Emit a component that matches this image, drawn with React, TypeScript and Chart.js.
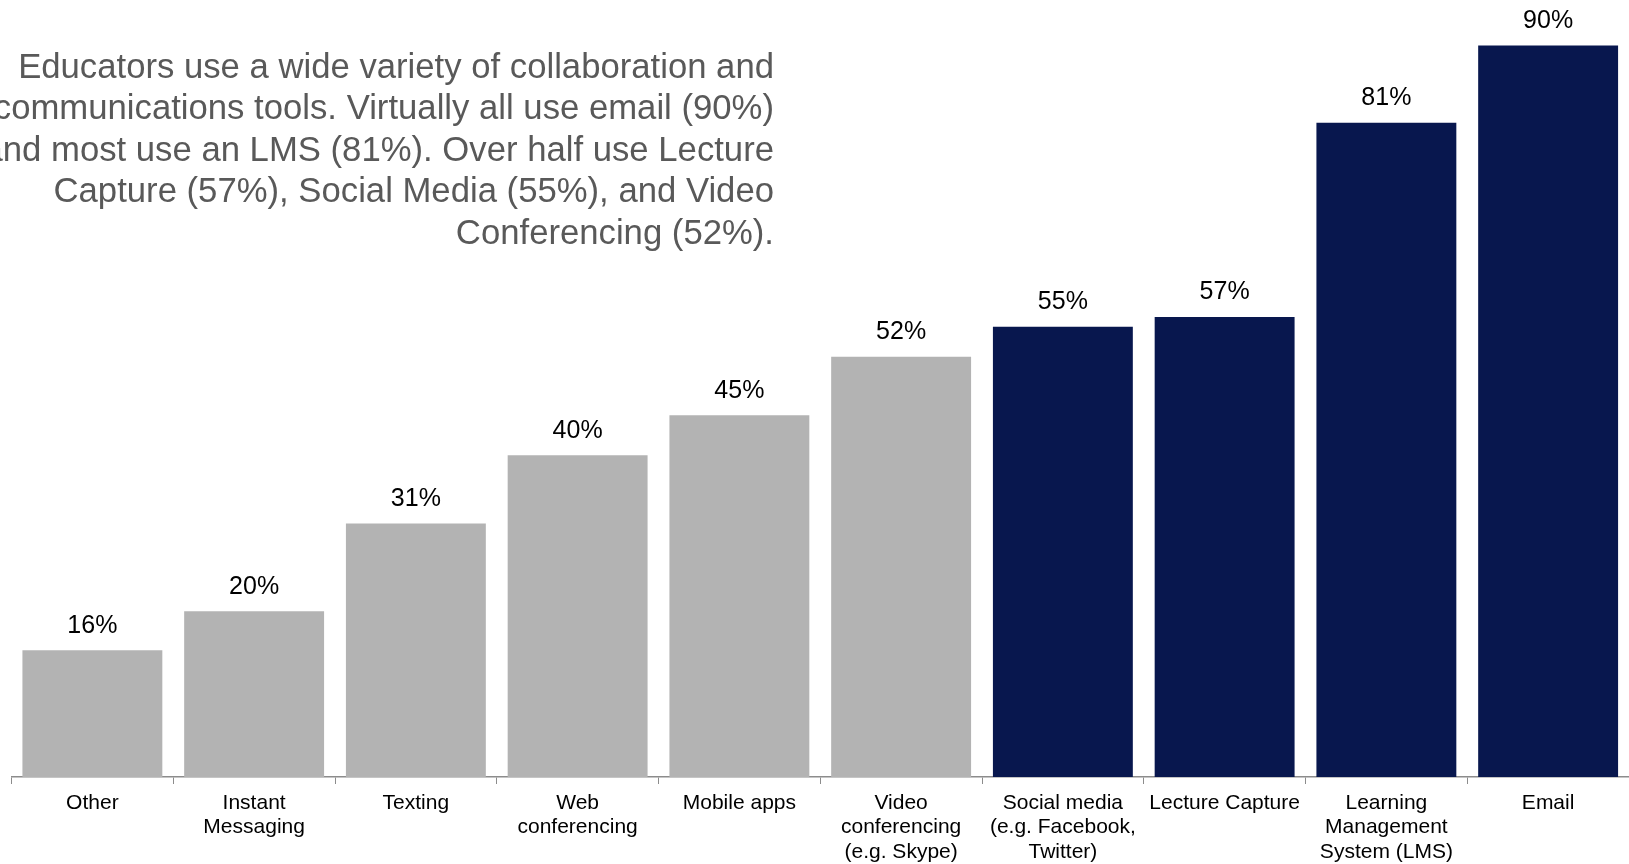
import React, { useEffect, useRef } from "react";
import { Chart, registerables } from "chart.js";

Chart.register(...registerables);

const categories: (string | string[])[] = [
  "Other",
  ["Instant", "Messaging"],
  "Texting",
  ["Web", "conferencing"],
  "Mobile apps",
  ["Video", "conferencing", "(e.g. Skype)"],
  ["Social media", "(e.g. Facebook,", "Twitter)"],
  "Lecture Capture",
  ["Learning", "Management", "System (LMS)"],
  "Email",
];
// bar heights
const values = [15.6, 20.4, 31.2, 39.6, 44.5, 51.7, 55.4, 56.6, 80.5, 90.0];
// value labels as printed above the bars
const valueLabelsText = ["16%", "20%", "31%", "40%", "45%", "52%", "55%", "57%", "81%", "90%"];
const highlighted = [false, false, false, false, false, false, true, true, true, true];
const annotationLines = [
  "Educators use a wide variety of collaboration and",
  "communications tools. Virtually all use email (90%)",
  "and most use an LMS (81%). Over half use Lecture",
  "Capture (57%), Social Media (55%), and Video",
  "Conferencing (52%).",
];

const GRAY = "#b3b3b3";
const NAVY = "#08174e";
const FONT = "'Liberation Sans', Arial, sans-serif";

const valueLabels = {
  id: "valueLabels",
  afterDatasetsDraw(chart: any) {
    const ctx = chart.ctx;
    const meta = chart.getDatasetMeta(0);
    ctx.save();
    ctx.font = `25px ${FONT}`;
    ctx.fillStyle = "#000000";
    ctx.textAlign = "center";
    ctx.textBaseline = "middle";
    meta.data.forEach((bar: any, i: number) => {
      ctx.fillText(valueLabelsText[i], bar.x, bar.y - 24.5);
    });
    ctx.restore();
  },
};

export default function App() {
  const canvasRef = useRef<HTMLCanvasElement | null>(null);

  useEffect(() => {
    if (!canvasRef.current) return;
    const chart = new Chart(canvasRef.current, {
      type: "bar",
      data: {
        labels: categories,
        datasets: [
          {
            data: values,
            backgroundColor: highlighted.map((h) => (h ? NAVY : GRAY)),
            borderWidth: 0,
            barPercentage: 0.865,
            categoryPercentage: 1,
          },
        ],
      },
      options: {
        animation: false,
        responsive: false,
        maintainAspectRatio: false,
        layout: { padding: { left: 11.5, right: 0, top: 0, bottom: 0 } },
        plugins: {
          legend: { display: false },
          tooltip: { enabled: false },
          title: { display: false },
        },
        scales: {
          x: {
            offset: true,
            grid: {
              display: true,
              drawOnChartArea: false,
              drawTicks: true,
              tickLength: 7,
              color: "#8c8c8c",
              lineWidth: 1,
              offset: true,
            },
            border: { display: true, color: "#8c8c8c", width: 1.5 },
            ticks: {
              color: "#000000",
              font: { family: FONT, size: 21, lineHeight: 1.16 },
              padding: 7,
              maxRotation: 0,
              minRotation: 0,
              autoSkip: false,
            },
            afterFit(scale: any) {
              scale.height = 87;
            },
          },
          y: {
            display: false,
            min: 0,
            max: 95.6,
          },
        },
      },
      plugins: [valueLabels],
    });
    return () => chart.destroy();
  }, []);

  return (
    <div
      style={{
        position: "fixed",
        left: 0,
        top: 0,
        width: 1629,
        height: 864,
        overflow: "hidden",
        background: "#ffffff",
      }}
    >
      <canvas
        ref={canvasRef}
        width={1629}
        height={864}
        style={{ position: "absolute", left: 0, top: 0, width: 1629, height: 864 }}
      />
      <div
        style={{
          position: "absolute",
          left: -226,
          top: 45.7,
          width: 1000,
          textAlign: "right",
          fontFamily: FONT,
          fontSize: 34.7,
          lineHeight: "41.6px",
          color: "#595959",
          whiteSpace: "nowrap",
        }}
      >
        {annotationLines.map((l, i) => (
          <div key={i}>{l}</div>
        ))}
      </div>
    </div>
  );
}
